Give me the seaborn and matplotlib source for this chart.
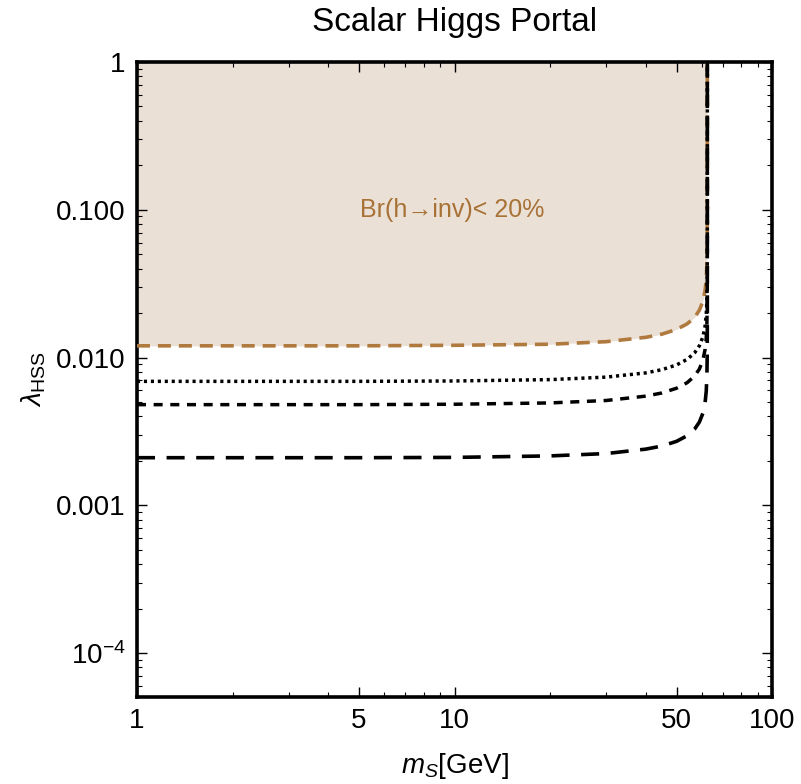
import numpy as np
import pandas as pd
import matplotlib
matplotlib.use("Agg")
import matplotlib.pyplot as plt
import matplotlib.ticker as mticker
import seaborn as sns

# ---- data ----
m_S = [1, 5, 10, 20, 30, 40, 45, 50, 54, 57, 59, 60.5, 61.5, 62, 62.3, 62.45, 62.495, 62.5]
lam_br20 = [0.0120, 0.0120, 0.0121, 0.0123, 0.0128, 0.0137, 0.0144, 0.0155, 0.0169, 0.0187,
            0.0209, 0.0240, 0.0284, 0.0338, 0.0424, 0.060, 0.107, 1.0]
lam_dotted = [0.0069, 0.0069, 0.00694, 0.00709, 0.00737, 0.00787, 0.00828, 0.00891, 0.00972, 0.01077,
              0.01201, 0.01377, 0.01635, 0.01942, 0.0244, 0.0345, 0.0614, 1.0]
lam_short = [0.0048, 0.0048, 0.00483, 0.00493, 0.00512, 0.00548, 0.00576, 0.0062, 0.00676, 0.0075,
             0.00836, 0.00958, 0.01137, 0.01351, 0.0170, 0.024, 0.0427, 1.0]
lam_long = [0.0021, 0.0021, 0.00211, 0.00216, 0.00224, 0.0024, 0.00252, 0.00271, 0.00296, 0.00328,
            0.00366, 0.00419, 0.00497, 0.00591, 0.00743, 0.0105, 0.0187, 1.0]

x_ticks = [1, 5, 10, 50, 100]
x_ticklabels = ["1", "5", "10", "50", "100"]
y_ticks = [1e-4, 1e-3, 1e-2, 1e-1, 1]
y_ticklabels = [r"$10^{-4}$", "0.001", "0.010", "0.100", "1"]

title = "Scalar Higgs Portal"
region_label = "Br(h\u2192inv)< 20%"

sns.set_style("ticks")
plt.rcParams["font.family"] = ["Liberation Sans", "DejaVu Sans"]
plt.rcParams["mathtext.fontset"] = "custom"
plt.rcParams["mathtext.rm"] = "Liberation Sans"
plt.rcParams["mathtext.it"] = "Liberation Sans:italic"
for k in ["text.color", "axes.labelcolor", "xtick.color", "ytick.color"]:
    plt.rcParams[k] = "black"

fig = plt.figure(figsize=(8.01, 7.84), dpi=100)
ax = fig.add_axes([0.171, 0.111, 0.793, 0.810])

brown = "#B07A3E"
fill_c = "#EAE0D6"

ax.set_xscale("log")
ax.set_yscale("log")

ax.fill_between(m_S, lam_br20, 1.0, color=fill_c, lw=0, zorder=0)

curves = [
    (lam_br20, brown, (0, (3.6, 2.2)), 2.6),
    (lam_dotted, "black", (0, (0.9, 1.1)), 2.5),
    (lam_short, "black", (0, (2.6, 2.2)), 2.5),
    (lam_long, "black", (0, (5.0, 3.2)), 2.6),
]
for ys, col, ls, lw in curves:
    df = pd.DataFrame({"m": m_S, "lam": ys})
    sns.lineplot(data=df, x="m", y="lam", ax=ax, color=col, lw=lw, sort=False,
                 estimator=None, zorder=3)
    ax.lines[-1].set_linestyle(ls)

ax.set_xlim(1, 100)
ax.set_ylim(5.05e-5, 1)

ax.set_xticks(x_ticks)
ax.set_xticklabels(x_ticklabels)
ax.xaxis.set_minor_locator(mticker.FixedLocator([2, 3, 4, 6, 7, 8, 9, 20, 30, 40, 60, 70, 80, 90]))
ax.xaxis.set_minor_formatter(mticker.NullFormatter())
ax.set_yticks(y_ticks)
ax.set_yticklabels(y_ticklabels)
ax.yaxis.set_minor_locator(mticker.LogLocator(base=10, subs=np.arange(2, 10)))
ax.yaxis.set_minor_formatter(mticker.NullFormatter())

ax.tick_params(which="both", direction="in", top=True, right=True, labelsize=20, pad=8,
               colors="black")
ax.tick_params(which="major", length=7, width=1.0)
ax.tick_params(which="minor", length=3.5, width=0.8)
for s in ax.spines.values():
    s.set_linewidth(2.6)
    s.set_color("black")

ax.set_xlabel(r"$m_S$[GeV]", fontsize=20, labelpad=12, color="black")
ax.set_ylabel(r"$\lambda_{\mathrm{HSS}}$", fontsize=20, labelpad=6, color="black")
ax.set_title(title, fontsize=24, pad=22, color="black")

ax.text(9.8, 0.1, region_label, color="#A87236", fontsize=18, ha="center", va="center")

fig.savefig("out.png", dpi=100)
